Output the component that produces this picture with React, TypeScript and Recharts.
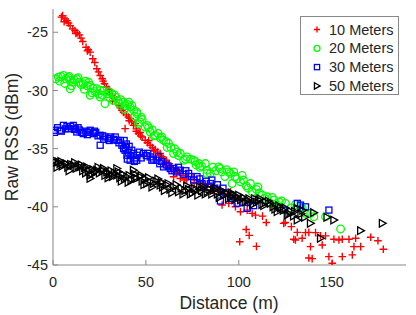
import { ScatterChart, Scatter, XAxis, YAxis } from "recharts";

// 10 Meters
const dist10 = [5.2, 6.5, 7.5, 8.3, 9.2, 10.6, 11.8, 13.0, 14.2, 15.1, 16.0, 17.8, 19.0, 20.0, 21.4, 22.5, 23.6, 24.5, 25.4, 26.5, 27.7, 28.8, 29.8, 30.5, 31.8, 33.0, 34.4, 35.5, 37.1, 38.8, 39.5, 40.6, 41.5, 42.3, 43.3, 44.2, 45.0, 46.0, 46.9, 48.0, 49.6, 50.8, 52.3, 53.5, 55.0, 56.3, 57.7, 58.6, 59.5, 61.0, 62.5, 63.8, 64.9, 66.5, 68.5, 70.0, 72.0, 74.8, 77.5, 79.3, 82.0, 85.0, 88.3, 91.0, 92.5, 94.6, 97.0, 98.2, 100.5, 100.9, 104.0, 104.5, 105.6, 107.2, 109.0, 109.5, 112.8, 114.8, 124.2, 125.0, 128.3, 129.6, 130.5, 131.5, 134.1, 135.9, 137.7, 137.7, 138.6, 139.5, 141.3, 144.0, 144.9, 146.7, 148.5, 150.3, 151.2, 153.9, 155.7, 155.7, 159.3, 161.1, 162.0, 162.9, 165.6, 171.0, 174.9, 177.8,
  4.5, 6.0, 12.3, 18.5, 27.0, 30.0, 32.0, 36.2, 38.0, 41.0, 44.8, 47.2, 51.5, 54.2, 57.0, 60.2, 63.0, 67.5, 71.0, 76.0, 80.5, 86.0, 90.0, 95.5, 99.5];
const rss10 = [-23.57, -23.85, -24.0, -24.2, -24.43, -24.71, -24.85, -25.05, -25.22, -25.5, -25.79, -26.29, -26.5, -26.71, -27.28, -27.6, -28.14, -28.4, -28.71, -29.0, -29.42, -29.7, -30.0, -30.28, -30.4, -30.7, -30.8, -31.3, -31.71, -33.28, -32.1, -32.28, -32.4, -32.7, -33.0, -32.85, -33.3, -33.7, -33.6, -34.0, -34.28, -34.5, -34.71, -34.9, -35.08, -35.3, -35.42, -35.7, -35.85, -36.0, -36.3, -36.8, -37.42, -37.1, -37.56, -37.3, -37.6, -37.43, -37.71, -38.0, -38.14, -38.3, -38.42, -39.85, -38.9, -39.7, -39.2, -40.0, -43.0, -40.42, -41.95, -40.28, -42.45, -40.56, -40.71, -43.4, -40.8, -41.35, -41.42, -41.35, -41.7, -42.79, -42.85, -42.2, -42.7, -42.22, -42.2, -44.4, -43.42, -44.45, -42.22, -42.5, -43.28, -42.5, -44.28, -44.85, -42.79, -42.85, -42.79, -44.28, -42.79, -44.13, -43.42, -42.7, -43.42, -42.62, -42.91, -43.65,
  -23.7, -24.1, -25.1, -26.6, -29.2, -29.9, -30.9, -31.5, -31.9, -32.6, -33.5, -33.9, -34.3, -35.2, -35.6, -36.2, -36.5, -36.9, -37.7, -37.9, -38.2, -38.6, -38.5, -38.7, -39.3];

// 20 Meters
const dist20 = [1.5, 2.9, 4.2, 5.6, 7.0, 8.2, 9.2, 9.2, 10.5, 11.5, 12.8, 14.0, 15.2, 16.3, 17.5, 18.5, 20.0, 20.0, 21.5, 22.5, 23.6, 25.4, 25.4, 27.1, 28.0, 29.5, 30.5, 31.7, 32.5, 34.0, 35.5, 36.5, 37.9, 39.0, 40.2, 41.5, 42.4, 43.5, 45.1, 45.1, 46.0, 46.9, 48.0, 49.6, 50.8, 52.3, 53.5, 55.0, 56.5, 57.8, 59.5, 60.8, 62.2, 63.5, 64.9, 65.5, 66.7, 68.5, 70.3, 72.1, 74.0, 75.7, 77.0, 78.4, 80.0, 82.0, 82.9, 82.9, 84.7, 87.5, 89.2, 90.1, 91.0, 92.5, 94.6, 95.5, 96.4, 97.3, 99.0, 100.9, 102.5, 104.0, 106.3, 107.2, 109.5, 111.0, 112.6, 115.3, 117.1, 119.0, 120.7, 123.0, 125.1, 128.0, 130.5, 133.2, 134.2, 135.9, 138.6, 140.4, 146.7, 154.8,
  3.5, 6.3, 8.7, 10.0, 13.5, 16.8, 19.2, 21.0, 24.5, 26.5, 30.0, 33.2, 35.0, 38.5, 40.8, 44.0, 47.5, 51.5, 54.3, 58.5, 61.5, 67.5, 71.3, 76.5, 79.0, 86.0, 93.5, 98.0, 101.8, 105.0, 110.3, 114.0, 118.0, 121.8];
const rss20 = [-29.0, -28.86, -28.8, -28.71, -29.0, -28.9, -29.14, -29.85, -29.3, -29.1, -29.0, -29.3, -29.5, -29.42, -29.2, -29.6, -29.57, -30.42, -29.8, -30.1, -29.85, -30.0, -30.57, -30.0, -31.14, -30.3, -30.6, -30.28, -30.85, -30.6, -31.1, -30.8, -31.0, -31.3, -31.2, -31.43, -31.28, -31.7, -31.85, -32.0, -32.85, -32.71, -32.5, -33.14, -33.0, -33.57, -33.4, -33.85, -33.7, -34.1, -34.28, -34.4, -34.56, -34.9, -35.42, -35.0, -35.28, -35.4, -36.0, -35.71, -35.9, -36.0, -36.4, -36.28, -36.5, -36.28, -36.85, -37.13, -37.13, -36.9, -36.57, -36.71, -37.0, -37.4, -37.0, -37.13, -38.0, -37.0, -37.6, -37.85, -37.7, -38.2, -38.0, -38.71, -38.5, -38.8, -39.0, -39.14, -39.7, -39.4, -39.85, -39.5, -39.7, -40.1, -39.8, -40.0, -40.13, -40.56, -40.56, -40.85, -40.85, -41.9,
  -29.2, -29.4, -28.8, -29.6, -28.9, -29.9, -29.3, -30.2, -30.3, -30.4, -30.1, -30.4, -30.9, -31.6, -31.0, -32.2, -32.3, -33.2, -33.9, -34.0, -34.9, -35.6, -35.9, -36.1, -36.6, -36.6, -36.8, -37.4, -37.3, -38.4, -38.3, -39.3, -39.2, -39.6];

// 30 Meters
const dist30 = [1.1, 2.5, 3.8, 5.6, 6.8, 8.3, 9.5, 10.9, 12.0, 12.8, 14.2, 15.3, 16.3, 17.8, 19.0, 20.0, 21.7, 23.0, 24.2, 25.4, 25.4, 26.8, 28.0, 29.8, 31.0, 32.5, 34.4, 35.5, 37.1, 38.0, 38.8, 39.5, 39.8, 40.5, 41.5, 42.4, 43.3, 44.0, 45.1, 45.1, 46.5, 48.7, 50.2, 52.3, 54.0, 55.9, 57.5, 59.5, 61.0, 63.1, 65.0, 66.5, 68.5, 70.5, 73.0, 75.7, 77.5, 80.2, 82.5, 84.7, 87.0, 90.1, 93.0, 96.0, 99.1, 102.0, 104.5, 108.0, 124.2, 131.5, 133.2, 135.9, 148.5,
  0.8, 4.5, 7.5, 11.5, 13.5, 18.5, 22.3, 27.3, 30.3, 33.5, 36.3, 38.3, 39.0, 40.0, 41.0, 42.0, 43.8, 47.5, 51.0, 53.2, 56.7, 58.5, 62.0, 64.0, 67.5, 71.5, 74.5, 79.0, 83.5, 85.5, 88.5, 91.5];
const rss30 = [-33.42, -33.2, -33.42, -33.0, -33.3, -33.28, -33.1, -33.0, -33.3, -33.57, -33.4, -33.6, -33.71, -33.5, -33.6, -33.42, -33.71, -33.6, -33.9, -33.85, -34.71, -33.9, -34.0, -34.13, -34.0, -34.2, -34.28, -34.5, -34.71, -35.0, -35.14, -34.6, -35.57, -35.3, -36.0, -35.14, -35.42, -35.8, -36.0, -35.57, -35.3, -35.42, -35.6, -35.71, -35.9, -36.0, -36.3, -36.57, -36.4, -36.71, -36.7, -37.0, -36.85, -37.2, -37.13, -37.71, -37.4, -38.0, -37.8, -38.0, -38.4, -39.5, -38.8, -39.3, -39.7, -39.6, -40.13, -39.9, -40.28, -39.7, -39.85, -40.0, -40.28,
  -33.6, -33.5, -33.1, -33.35, -33.2, -33.8, -33.5, -34.2, -34.3, -34.0, -34.3, -34.3, -34.9, -35.9, -34.8, -35.6, -36.1, -35.8, -35.4, -36.0, -35.7, -36.1, -36.5, -36.9, -36.6, -36.9, -37.4, -37.6, -38.3, -37.7, -38.1, -38.4];

// 50 Meters
const dist50 = [1.5, 2.9, 3.8, 5.0, 6.5, 8.0, 9.5, 10.9, 12.5, 13.5, 14.6, 16.0, 17.0, 18.2, 19.0, 20.0, 20.0, 21.5, 22.5, 23.6, 25.0, 26.5, 28.0, 29.0, 30.5, 32.0, 33.0, 34.4, 34.4, 36.0, 37.5, 38.5, 39.8, 41.0, 42.0, 43.3, 44.0, 45.1, 46.9, 48.0, 49.5, 50.5, 52.3, 54.1, 55.5, 57.7, 59.0, 61.0, 63.0, 65.0, 67.6, 69.0, 71.0, 73.0, 75.0, 77.0, 79.0, 81.1, 83.0, 84.5, 86.5, 88.5, 90.5, 92.0, 93.7, 95.5, 97.0, 99.1, 101.0, 102.5, 104.5, 106.5, 108.5, 110.7, 112.5, 114.5, 117.0, 118.5, 120.7, 122.5, 124.0, 126.1, 128.0, 129.5, 131.5, 131.5, 133.5, 135.5, 138.6, 140.4, 144.0, 147.5, 151.2, 165.6, 177.3,
  0.8, 2.2, 4.3, 7.2, 8.7, 11.7, 15.3, 17.6, 21.0, 24.3, 27.2, 29.7, 31.3, 35.2, 36.8, 40.5, 43.8, 47.5, 49.0, 51.5, 53.3, 56.5, 58.3, 60.0, 62.0, 64.0, 66.3, 70.0, 72.0, 74.0, 76.0, 78.0, 80.0, 82.0, 85.5, 87.5, 89.5, 91.0, 94.5, 96.0, 98.0, 100.0, 103.5, 105.5, 107.5, 109.5, 111.5, 113.5, 116.0, 119.5, 121.5, 125.0, 127.0, 130.0, 134.5];
const rss50 = [-36.2, -36.14, -36.28, -36.5, -36.28, -36.6, -36.35, -36.42, -36.7, -36.5, -36.57, -36.9, -36.6, -36.57, -36.9, -37.28, -37.56, -36.8, -37.0, -36.85, -37.1, -36.9, -37.3, -37.0, -37.2, -37.4, -37.1, -36.71, -37.28, -37.5, -37.2, -37.6, -37.42, -37.3, -37.7, -36.85, -37.5, -37.56, -37.42, -37.8, -37.6, -38.0, -37.85, -38.0, -37.8, -38.14, -38.3, -38.1, -38.5, -38.3, -38.71, -38.4, -38.6, -38.5, -38.8, -38.6, -38.3, -38.28, -38.7, -38.5, -38.56, -38.9, -38.7, -39.0, -38.85, -39.1, -39.0, -39.14, -39.4, -39.2, -39.42, -39.6, -39.3, -39.42, -39.8, -39.6, -39.7, -40.0, -40.42, -40.1, -40.3, -40.71, -40.4, -40.8, -41.14, -40.13, -40.6, -40.9, -41.42, -40.5, -42.7, -40.9, -41.14, -42.05, -41.42,
  -36.0, -36.6, -36.1, -36.3, -36.9, -36.2, -36.4, -37.1, -37.2, -36.6, -36.7, -37.5, -36.9, -37.0, -37.8, -37.9, -37.2, -37.3, -38.1, -37.5, -38.3, -37.6, -37.9, -38.6, -38.0, -38.8, -38.1, -38.9, -38.2, -38.9, -38.4, -39.0, -38.6, -38.9, -38.9, -38.4, -39.2, -38.6, -39.3, -38.8, -39.4, -39.0, -39.6, -39.3, -39.8, -39.6, -39.3, -39.9, -39.5, -40.2, -39.9, -40.1, -40.6, -40.4, -40.3];

const xTicks = [0, 50, 100, 150];
const yTicks = [-45, -40, -35, -30, -25];

const toPoints = (xs: number[], ys: number[]) => xs.map((x, i) => ({ x, y: ys[i] }));

const axisColor = "#888888";
const textColor = "#262626";
const font = "'Liberation Sans', Arial, sans-serif";

const Plus = ({ cx, cy, s = 3.8 }: any) => (
  <path d={`M${cx - s},${cy}H${cx + s}M${cx},${cy - s}V${cy + s}`} stroke="#ff0000" strokeWidth={1.4} fill="none" />
);
const Ring = ({ cx, cy, r = 3.8 }: any) => (
  <circle cx={cx} cy={cy} r={r} stroke="#00ff00" strokeWidth={1.3} fill="none" />
);
const Square = ({ cx, cy, s = 3 }: any) => (
  <rect x={cx - s} y={cy - s} width={s * 2} height={s * 2} stroke="#0000ff" strokeWidth={1.3} fill="none" />
);
const Tri = ({ cx, cy, s = 3.8 }: any) => (
  <path d={`M${cx - s * 0.8},${cy - s}L${cx + s},${cy}L${cx - s * 0.8},${cy + s}Z`} stroke="#000000" strokeWidth={1.3} fill="none" />
);

const legendItems = [
  { name: "10 Meters", Mark: Plus, size: 3 },
  { name: "20 Meters", Mark: Ring, size: 3 },
  { name: "30 Meters", Mark: Square, size: 2.6 },
  { name: "50 Meters", Mark: Tri, size: 3.2 },
];

export default function App() {
  const tickStyle = { fill: textColor, fontSize: 14.5, fontFamily: font };
  return (
    <div style={{ position: "relative", width: 416, height: 315, background: "#fff" }}>
      <style>{"body{margin:0}"}</style>
      <ScatterChart width={416} height={315} margin={{ top: 9, right: 10, bottom: 0, left: 0 }}>
        <XAxis
          type="number"
          dataKey="x"
          domain={[0, 190]}
          ticks={xTicks}
          allowDataOverflow
          height={50}
          stroke={axisColor}
          tickSize={-5}
          tickMargin={17}
          tick={tickStyle}
        />
        <XAxis
          xAxisId="top"
          orientation="top"
          type="number"
          domain={[0, 190]}
          ticks={xTicks}
          allowDataOverflow
          height={0}
          stroke={axisColor}
          tickSize={-5}
          tick={false}
        />
        <YAxis
          type="number"
          dataKey="y"
          domain={[-45, -23]}
          ticks={yTicks}
          allowDataOverflow
          width={53}
          stroke={axisColor}
          tickSize={-5}
          tickMargin={10}
          tick={tickStyle}
        />
        <YAxis
          yAxisId="right"
          orientation="right"
          type="number"
          domain={[-45, -23]}
          ticks={yTicks}
          allowDataOverflow
          width={0}
          stroke={axisColor}
          tickSize={-5}
          tick={false}
        />
        <Scatter data={toPoints(dist10, rss10)} isAnimationActive={false} shape={(p: any) => <Plus cx={p.cx} cy={p.cy} />} />
        <Scatter data={toPoints(dist20, rss20)} isAnimationActive={false} shape={(p: any) => <Ring cx={p.cx} cy={p.cy} />} />
        <Scatter data={toPoints(dist30, rss30)} isAnimationActive={false} shape={(p: any) => <Square cx={p.cx} cy={p.cy} />} />
        <Scatter data={toPoints(dist50, rss50)} isAnimationActive={false} shape={(p: any) => <Tri cx={p.cx} cy={p.cy} />} />
      </ScatterChart>

      <svg width={416} height={315} style={{ position: "absolute", left: 0, top: 0, pointerEvents: "none" }}>
        <text x={229} y={309} textAnchor="middle" fontSize={17.5} fontFamily={font} fill={textColor}>
          Distance (m)
        </text>
        <text x={12} y={137} transform="rotate(-90 12 137)" textAnchor="middle" dominantBaseline="central" fontSize={17.5} fontFamily={font} fill={textColor}>
          Raw RSS (dBm)
        </text>
        <rect x={300.5} y={16.5} width={98} height={78} fill="#fff" stroke={axisColor} strokeWidth={1} />
        {legendItems.map((it, i) => {
          const cy = 29.5 + i * 18.8;
          const M = it.Mark;
          return (
            <g key={it.name}>
              <M cx={317} cy={cy} {...(it.Mark === Ring ? { r: it.size } : { s: it.size })} />
              <text x={329} y={cy} dominantBaseline="central" fontSize={14.5} fontFamily={font} fill={textColor}>
                {it.name}
              </text>
            </g>
          );
        })}
      </svg>
    </div>
  );
}
